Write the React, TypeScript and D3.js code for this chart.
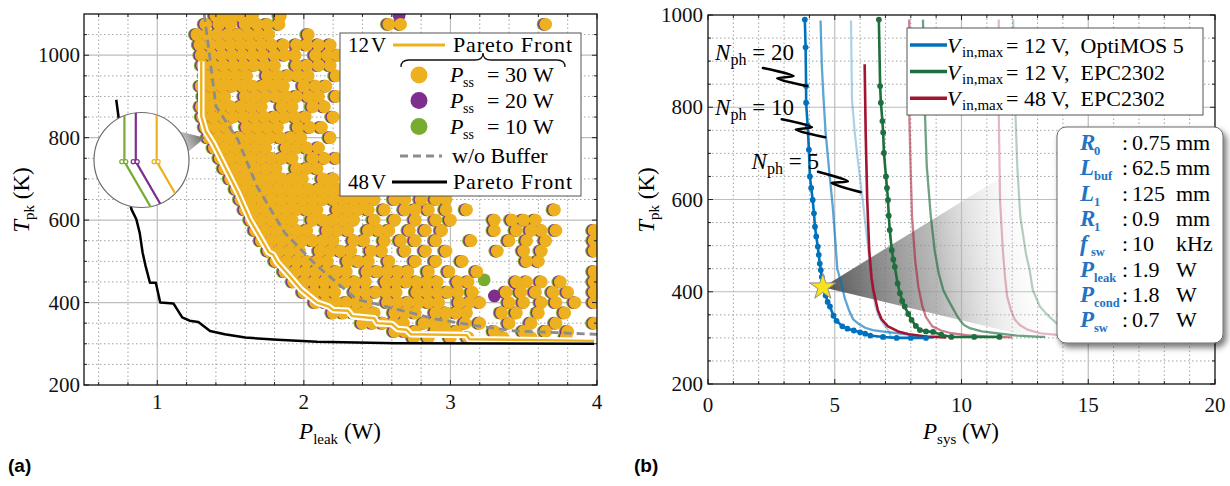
import React from 'react';
import * as d3 from 'd3';

type Pt = [number, number];

// ---------------- Panel (a) data ----------------
const aXTicks = [1, 2, 3, 4];
const aYTicks = [200, 400, 600, 800, 1000];

const pareto12V: Pt[] = [
  [1.30, 985], [1.30, 852], [1.33, 815], [1.38, 787], [1.46, 730], [1.55, 666],
  [1.63, 602], [1.71, 553], [1.76, 522], [1.79, 516], [1.82, 497], [1.90, 465],
  [1.98, 432], [2.09, 400], [2.17, 390], [2.20, 382], [2.30, 380], [2.33, 367],
  [2.48, 362], [2.50, 350], [2.60, 348], [2.64, 336], [2.70, 334], [2.73, 323],
  [3.11, 321], [3.13, 311], [3.98, 307],
];

const pareto48V: Pt[] = [
  [0.72, 892], [0.735, 852], [0.76, 780], [0.79, 700], [0.81, 650], [0.824, 626],
  [0.857, 602], [0.88, 569], [0.90, 521], [0.92, 489], [0.95, 448], [0.99, 448],
  [1.02, 400], [1.11, 398], [1.17, 364], [1.22, 356], [1.28, 353], [1.36, 331],
  [1.46, 323], [1.60, 315], [1.82, 310], [2.09, 305], [2.63, 301], [3.98, 300],
];

const noBuffer: Pt[] = [
  [1.32, 1100], [1.36, 990], [1.40, 876], [1.55, 795], [1.68, 682], [1.87, 569],
  [2.09, 489], [2.36, 408], [2.63, 384], [2.90, 360], [3.17, 344], [3.44, 331], [4.0, 323],
];

// design points (P_ss = 30 W), row by row: [T_pk, P_leak values]
const cloudRows: [number, number[]][] = [
  [1095, [1.40, 1.46, 1.52, 1.57, 1.65, 1.84]],
  [1075, [1.33, 1.42, 1.50, 1.60, 1.68, 1.75, 1.83, 2.58, 2.66, 3.65]],
  [1050, [1.27, 1.34, 1.41, 1.48, 1.55, 1.62, 1.69, 1.76, 2.03]],
  [1025, [1.29, 1.36, 1.43, 1.50, 1.57, 1.64, 1.71, 1.78, 1.86, 1.95, 2.02, 2.10, 2.18]],
  [1000, [1.30, 1.37, 1.44, 1.51, 1.58, 1.65, 1.72, 1.80, 1.87, 1.94, 2.08, 2.16, 2.23]],
  [975, [1.31, 1.38, 1.45, 1.52, 1.59, 1.66, 1.73, 1.80, 1.95, 2.02, 2.10, 2.18]],
  [950, [1.33, 1.40, 1.47, 1.54, 1.61, 1.75, 1.82, 1.89, 1.96, 2.03, 2.22]],
  [925, [1.30, 1.37, 1.44, 1.51, 1.58, 1.65, 1.72, 1.79, 1.86, 2.00, 2.08, 2.15]],
  [900, [1.32, 1.39, 1.46, 1.60, 1.67, 1.74, 1.81, 1.88, 1.95, 2.03, 2.10, 2.22]],
  [875, [1.30, 1.36, 1.43, 1.50, 1.57, 1.64, 1.71, 1.85, 1.92, 2.06, 2.14]],
  [850, [1.31, 1.38, 1.45, 1.52, 1.59, 1.66, 1.73, 1.80, 1.87, 1.94, 2.01, 2.20]],
  [825, [1.33, 1.40, 1.47, 1.61, 1.68, 1.75, 1.82, 1.96, 2.04, 2.12]],
  [800, [1.35, 1.42, 1.49, 1.56, 1.63, 1.70, 1.77, 1.84, 1.91, 1.98, 2.18]],
  [775, [1.39, 1.46, 1.53, 1.60, 1.67, 1.74, 1.88, 1.95, 2.02, 2.10]],
  [750, [1.43, 1.50, 1.57, 1.64, 1.71, 1.78, 1.85, 1.92, 2.06, 2.14, 2.22]],
  [725, [1.46, 1.53, 1.60, 1.67, 1.74, 1.81, 1.95, 2.02, 2.09]],
  [700, [1.50, 1.57, 1.64, 1.71, 1.78, 1.85, 1.92, 1.99, 2.13, 2.20]],
  [675, [1.54, 1.61, 1.68, 1.75, 1.82, 1.89, 1.96, 2.03, 2.10, 2.17, 2.24]],
  [650, [1.57, 1.64, 1.71, 1.78, 1.85, 1.92, 1.99, 2.06, 2.13, 2.20, 2.27, 2.34, 2.41, 2.48, 2.62, 2.69, 2.80, 2.90, 2.97]],
  [625, [1.60, 1.67, 1.74, 1.81, 1.88, 1.95, 2.02, 2.09, 2.23, 2.30, 2.37, 2.44, 2.55, 2.69, 2.76, 2.85, 2.97, 3.11, 3.71]],
  [600, [1.64, 1.71, 1.78, 1.85, 1.92, 2.06, 2.13, 2.20, 2.27, 2.34, 2.48, 2.62, 2.76, 2.90, 3.00, 3.30, 3.42, 3.50, 3.58]],
  [575, [1.67, 1.74, 1.81, 1.88, 1.95, 2.02, 2.16, 2.23, 2.30, 2.44, 2.51, 2.58, 2.72, 2.83, 2.94, 3.30, 3.45, 3.55, 3.62, 3.72, 3.98]],
  [550, [1.71, 1.78, 1.85, 1.92, 1.99, 2.06, 2.13, 2.20, 2.34, 2.41, 2.55, 2.66, 2.76, 2.90, 3.14, 3.40, 3.52, 3.65, 3.98]],
  [525, [1.76, 1.83, 1.90, 1.97, 2.11, 2.18, 2.25, 2.32, 2.46, 2.53, 2.69, 2.83, 2.97, 3.32, 3.50, 3.62, 3.98]],
  [500, [1.81, 1.88, 1.95, 2.02, 2.09, 2.16, 2.30, 2.37, 2.44, 2.58, 2.76, 2.90, 3.08, 3.52, 3.60]],
  [475, [1.87, 1.94, 2.01, 2.08, 2.15, 2.22, 2.29, 2.43, 2.50, 2.57, 2.64, 2.71, 2.85, 2.99, 3.18, 3.98]],
  [450, [1.93, 2.00, 2.07, 2.14, 2.21, 2.28, 2.35, 2.42, 2.56, 2.63, 2.70, 2.77, 2.84, 2.91, 3.05, 3.12, 3.45, 3.52, 3.62, 3.75, 3.98]],
  [425, [2.00, 2.07, 2.14, 2.21, 2.35, 2.42, 2.49, 2.56, 2.63, 2.77, 2.84, 2.91, 2.98, 3.05, 3.15, 3.38, 3.48, 3.58, 3.70, 3.80, 3.98]],
  [400, [2.08, 2.15, 2.22, 2.29, 2.36, 2.43, 2.57, 2.64, 2.71, 2.78, 2.85, 2.92, 3.06, 3.13, 3.20, 3.40, 3.50, 3.62, 3.72, 3.85, 3.98]],
  [375, [2.20, 2.27, 2.34, 2.41, 2.48, 2.62, 2.69, 2.76, 2.90, 2.97, 3.04, 3.11, 3.35, 3.45, 3.60, 3.78]],
  [350, [2.40, 2.47, 2.54, 2.61, 2.68, 2.82, 2.89, 2.96, 3.10, 3.20, 3.40, 3.55, 3.72, 3.98]],
  [330, [2.62, 2.69, 2.76, 2.90, 2.97, 3.04, 3.30, 3.50, 3.65, 3.80]],
  [315, [2.75, 2.85, 3.00, 3.12, 3.36, 3.55, 3.79]],
];
const purpleOnly: Pt[] = [[2.65, 1097], [3.30, 416], [3.44, 448]];
const greenOnly: Pt[] = [[3.23, 455]];

// zoomed inset: horizontal offsets of the three fronts (P_ss = 10, 20, 30 W)
const insetOffsets = [-0.36, -0.12, 0.32];

// ---------------- Panel (b) data ----------------
const bXTicks = [0, 5, 10, 15, 20];
const bYTicks = [200, 400, 600, 800, 1000];

const opti20: Pt[] = [
  [3.82, 990], [3.85, 930], [3.87, 846], [3.87, 810], [3.93, 760], [3.98, 708], [4.02, 650],
  [4.07, 625], [4.13, 599], [4.18, 570], [4.22, 541], [4.27, 520], [4.33, 498], [4.37, 480],
  [4.41, 461], [4.45, 447], [4.49, 432], [4.53, 410], [4.64, 392], [4.72, 378], [4.81, 368],
  [4.95, 348], [5.07, 337], [5.3, 325], [5.5, 320], [5.75, 316], [6.0, 312], [6.2, 309],
  [6.4, 305], [6.9, 302], [7.44, 300], [8.0, 300], [8.6, 300],
];
const opti10: Pt[] = [
  [4.44, 988], [4.49, 890], [4.56, 817], [4.64, 745], [4.79, 657], [4.92, 585], [5.02, 512],
  [5.10, 450], [5.25, 420], [5.40, 385], [5.56, 360], [5.73, 340], [5.95, 330], [6.2, 322],
  [6.5, 317], [7.0, 313], [7.5, 310], [8.1, 306], [8.36, 300], [8.9, 300],
];
const opti5: Pt[] = [
  [5.64, 988], [5.68, 817], [5.79, 745], [5.94, 672], [6.10, 600], [6.25, 527], [6.40, 454],
  [6.50, 400], [6.60, 370], [6.75, 345], [6.95, 328], [7.04, 322], [7.17, 310], [7.2, 303], [7.6, 300],
];
const epc12_20: Pt[] = [
  [6.74, 990], [6.79, 846], [6.82, 810], [6.88, 770], [6.91, 745], [6.94, 701], [7.02, 650],
  [7.06, 625], [7.10, 599], [7.13, 565], [7.17, 534], [7.25, 490], [7.31, 470], [7.37, 454],
  [7.48, 418], [7.57, 397], [7.66, 380], [7.76, 368], [7.90, 352], [8.03, 339], [8.20, 326],
  [8.36, 317], [8.6, 314], [8.88, 313], [9.2, 307], [9.6, 302], [10.5, 302], [11.5, 302],
];
const epc12_10: Pt[] = [
  [8.48, 990], [8.56, 784], [8.63, 672], [8.79, 563], [8.94, 490], [9.10, 440], [9.28, 404],
  [9.45, 385], [9.60, 370], [9.80, 350], [9.93, 339], [10.1, 328], [10.33, 321], [10.8, 314],
  [11.38, 310], [12.2, 305], [13.1, 302], [13.3, 302],
];
const epc12_5: Pt[] = [
  [12.04, 990], [12.13, 784], [12.2, 672], [12.32, 563], [12.55, 480], [12.69, 447],
  [12.81, 404], [13.09, 368], [13.35, 352], [13.6, 339], [14.0, 320], [14.5, 305],
];
const epc48_20: Pt[] = [
  [6.18, 893], [6.22, 745], [6.28, 600], [6.36, 490], [6.45, 430], [6.52, 405], [6.60, 385],
  [6.70, 360], [6.85, 340], [7.1, 325], [7.5, 314], [8.0, 307], [8.6, 303], [9.4, 301],
];
const epc48_10: Pt[] = [
  [7.94, 990], [7.94, 788], [7.99, 672], [8.05, 563], [8.17, 469], [8.30, 410], [8.45, 370],
  [8.60, 345], [8.85, 325], [9.2, 316], [9.6, 310], [10.2, 306], [11.0, 303], [12.0, 301],
];
const epc48_5: Pt[] = [
  [11.47, 990], [11.47, 788], [11.52, 600], [11.63, 490], [11.72, 430], [11.80, 390],
  [11.95, 360], [12.1, 340], [12.3, 328], [12.6, 318], [13.1, 310], [13.87, 306], [14.5, 303],
];
const starPoint: Pt = [4.53, 410];

const nphLabels = [
  { n: '20', x: 0.28, y: 902, from: [2.17, 885] as Pt, to: [3.90, 846] as Pt },
  { n: '10', x: 0.28, y: 783, from: [2.91, 774] as Pt, to: [4.62, 735] as Pt },
  { n: '5', x: 1.72, y: 667, from: [4.34, 660] as Pt, to: [6.02, 616] as Pt },
];

const legendBText = ['= 12 V,  OptiMOS 5', '= 12 V,  EPC2302', '= 48 V,  EPC2302'];

const infoLabels = ['R', 'L', 'L', 'R', 'f', 'P', 'P', 'P'];
const infoSubs = ['0', 'buf', '1', '1', 'sw', 'leak', 'cond', 'sw'];
const infoValues = ['0.75', '62.5', '125', '0.9', '10', '1.9', '1.8', '0.7'];
const infoUnits = ['mm', 'mm', 'mm', 'mm', 'kHz', 'W', 'W', 'W'];

// ---------------- styling ----------------
const SERIF = "'Liberation Serif', 'DejaVu Serif', 'Times New Roman', Times, serif";
const SANS = "'Liberation Sans', Arial, sans-serif";
const YEL = '#EDB120';
const PUR = '#7E2F8E';
const GRN = '#77AC30';
const BLUE = '#0072BD';
const DGRN = '#1E6E3E';
const DRED = '#A2142F';

function Grid({ x, y, xMinor, yMinor }: any) {
  const [x0, x1] = x.range();
  const [y0, y1] = y.range();
  return (
    <g>
      {xMinor.map((v: number, i: number) => (
        <line key={'xm' + i} x1={x(v)} x2={x(v)} y1={y0} y2={y1} stroke="#9a9a9a" strokeWidth={0.9} strokeDasharray="1.5 2.5" />
      ))}
      {yMinor.map((v: number, i: number) => (
        <line key={'ym' + i} x1={x0} x2={x1} y1={y(v)} y2={y(v)} stroke="#9a9a9a" strokeWidth={0.9} strokeDasharray="1.5 2.5" />
      ))}
    </g>
  );
}

function MajorGrid({ x, y, xs, ys }: any) {
  const [x0, x1] = x.range();
  const [y0, y1] = y.range();
  const xd = x.domain(), yd = y.domain();
  return (
    <g>
      {xs.filter((v: number) => v > xd[0] + 1e-6 && v < xd[1] - 1e-6).map((v: number) => (
        <line key={'X' + v} x1={x(v)} x2={x(v)} y1={y0} y2={y1} stroke="#bdbdbd" strokeWidth={1.2} />
      ))}
      {ys.filter((v: number) => v > yd[0] + 1e-6 && v < yd[1] - 1e-6).map((v: number) => (
        <line key={'Y' + v} x1={x0} x2={x1} y1={y(v)} y2={y(v)} stroke="#bdbdbd" strokeWidth={1.2} />
      ))}
    </g>
  );
}

function Frame({ x, y, xs, ys, xMinor, yMinor, xLabelY, yLabelX }: any) {
  const [x0, x1] = x.range();
  const [y0, y1] = y.range();
  const tick = (v: number, len: number, axis: 'x' | 'y', k: string) =>
    axis === 'x' ? (
      <g key={k}>
        <line x1={x(v)} x2={x(v)} y1={y0} y2={y0 - len} stroke="#222" strokeWidth={1} />
        <line x1={x(v)} x2={x(v)} y1={y1} y2={y1 + len} stroke="#222" strokeWidth={1} />
      </g>
    ) : (
      <g key={k}>
        <line x1={x0} x2={x0 + len} y1={y(v)} y2={y(v)} stroke="#222" strokeWidth={1} />
        <line x1={x1} x2={x1 - len} y1={y(v)} y2={y(v)} stroke="#222" strokeWidth={1} />
      </g>
    );
  return (
    <g>
      {xMinor.map((v: number, i: number) => tick(v, 3, 'x', 'xm' + i))}
      {yMinor.map((v: number, i: number) => tick(v, 3, 'y', 'ym' + i))}
      {xs.map((v: number, i: number) => tick(v, 5, 'x', 'xM' + i))}
      {ys.map((v: number, i: number) => tick(v, 5, 'y', 'yM' + i))}
      <rect x={x0} y={y1} width={x1 - x0} height={y0 - y1} fill="none" stroke="#111" strokeWidth={1.3} />
      {xs.map((v: number) => (
        <text key={'lx' + v} x={x(v)} y={xLabelY} textAnchor="middle" style={{ fontFamily: SERIF }} fontSize={21} fill="#111">{v}</text>
      ))}
      {ys.map((v: number) => (
        <text key={'ly' + v} x={yLabelX} y={y(v)} dy="0.34em" textAnchor="end" style={{ fontFamily: SERIF }} fontSize={21} fill="#111">{v}</text>
      ))}
    </g>
  );
}

const minorRange = (a: number, b: number, s: number) =>
  d3.range(Math.round((b - a) / s) + 1).map((i) => +(a + i * s).toFixed(4));

export default function App() {
  // ---- panel (a) scales
  const xA = d3.scaleLinear().domain([0.5, 4]).range([84, 597]);
  const yA = d3.scaleLinear().domain([200, 1100]).range([385, 14]);
  const lineA = d3.line<Pt>().x((d) => xA(d[0])).y((d) => yA(d[1]));
  const aXMinor = minorRange(0.6, 3.8, 0.2).filter((v) => Math.abs(v - Math.round(v)) > 0.01);
  const aYMinor = minorRange(250, 1050, 50).filter((v) => v % 200 !== 0);

  const cloud: Pt[] = cloudRows.flatMap(([t, xs]) => xs.map((p) => [p, t] as Pt));
  const dotR = 6.4;

  // inset
  const icx = 141.5, icy = 160, iR = 47.5;
  const insetColors = [GRN, PUR, YEL];
  const tip: Pt = [xA(1.325), yA(800)];
  const angA = (-37 * Math.PI) / 180, angB = (-10 * Math.PI) / 180;
  const base1: Pt = [icx + iR * Math.cos(angA), icy + iR * Math.sin(angA)];
  const base2: Pt = [icx + iR * Math.cos(angB), icy + iR * Math.sin(angB)];

  // ---- panel (b) scales
  const xB = d3.scaleLinear().domain([0, 20]).range([708, 1215]);
  const yB = d3.scaleLinear().domain([200, 1000]).range([384, 15]);
  const lineB = d3.line<Pt>().x((d) => xB(d[0])).y((d) => yB(d[1]));
  const bXMinor = d3.range(1, 20).filter((v) => v % 5 !== 0);
  const bYMinor = minorRange(250, 950, 50).filter((v) => v % 200 !== 0);

  const seriesB = [
    { d: opti5, c: BLUE, o: 0.33, w: 2.2, m: false },
    { d: epc12_5, c: DGRN, o: 0.33, w: 2.2, m: false },
    { d: epc48_5, c: DRED, o: 0.3, w: 2.2, m: false },
    { d: opti10, c: BLUE, o: 0.64, w: 2.3, m: false },
    { d: epc12_10, c: DGRN, o: 0.64, w: 2.3, m: false },
    { d: epc48_10, c: DRED, o: 0.55, w: 2.3, m: false },
    { d: epc48_20, c: DRED, o: 1, w: 2.6, m: false },
    { d: epc12_20, c: DGRN, o: 1, w: 2.6, m: true },
    { d: opti20, c: BLUE, o: 1, w: 2.6, m: true },
  ];
  const legendColors = [BLUE, DGRN, DRED];

  const star = d3.symbol(d3.symbolStar, 210)() as string;
  const starXY: Pt = [xB(starPoint[0]), yB(starPoint[1])];
  const box = { x: 1057, y: 127, w: 166, h: 216 };

  const squiggle = (a: Pt, b: Pt) => {
    const A: Pt = [xB(a[0]), yB(a[1])];
    const B: Pt = [xB(b[0]), yB(b[1])];
    const dx = B[0] - A[0], dy = B[1] - A[1];
    const L = Math.hypot(dx, dy);
    const nx = -dy / L, ny = dx / L;
    const off = 4.2;
    const M1: Pt = [A[0] + dx * 0.66 - nx * off, A[1] + dy * 0.66 - ny * off];
    const M2: Pt = [A[0] + dx * 0.36 + nx * off, A[1] + dy * 0.36 + ny * off];
    return d3.line().curve(d3.curveCatmullRom.alpha(0.5))([A, M1, M2, B]) as string;
  };

  return (
    <svg width={1230} height={486} style={{ position: 'absolute', left: 0, top: 0, background: '#fff', fontFamily: SERIF }}>
      <defs>
        <clipPath id="clipA"><rect x={84} y={14} width={513} height={371} /></clipPath>
        <clipPath id="clipB"><rect x={708} y={15} width={507} height={369} /></clipPath>
        <clipPath id="clipInset"><circle cx={icx} cy={icy} r={iR} /></clipPath>
        <linearGradient id="coneA" gradientUnits="userSpaceOnUse" x1={base1[0]} y1={icy - 10} x2={tip[0]} y2={tip[1]}>
          <stop offset="0" stopColor="#e2e2e2" />
          <stop offset="1" stopColor="#6a6a6a" />
        </linearGradient>
        <linearGradient id="coneB" gradientUnits="userSpaceOnUse" x1={starXY[0]} y1={starXY[1]} x2={box.x - 10} y2={starXY[1] - 40}>
          <stop offset="0" stopColor="#4a4a4a" stopOpacity={0.95} />
          <stop offset="0.5" stopColor="#9a9a9a" stopOpacity={0.7} />
          <stop offset="1" stopColor="#ffffff" stopOpacity={0} />
        </linearGradient>
        <filter id="shadow" x="-20%" y="-20%" width="150%" height="150%">
          <feDropShadow dx={3} dy={4} stdDeviation={3} floodColor="#000" floodOpacity={0.55} />
        </filter>
      </defs>

      {/* ================= Panel (a) ================= */}
      <Grid x={xA} y={yA} xMinor={aXMinor} yMinor={aYMinor} />
      <MajorGrid x={xA} y={yA} xs={aXTicks} ys={aYTicks} />
      <g clipPath="url(#clipA)">
        {cloud.map((p, i) => (
          <circle key={'g' + i} cx={xA(p[0] - 0.017)} cy={yA(p[1])} r={dotR} fill={GRN} />
        ))}
        {greenOnly.map((p, i) => (
          <circle key={'go' + i} cx={xA(p[0])} cy={yA(p[1])} r={dotR} fill={GRN} />
        ))}
        {cloud.map((p, i) => (
          <circle key={'p' + i} cx={xA(p[0] - 0.009)} cy={yA(p[1])} r={dotR} fill={PUR} />
        ))}
        {purpleOnly.map((p, i) => (
          <circle key={'po' + i} cx={xA(p[0])} cy={yA(p[1])} r={dotR} fill={PUR} />
        ))}
        {cloud.map((p, i) => (
          <circle key={'y' + i} cx={xA(p[0])} cy={yA(p[1])} r={dotR} fill={YEL} />
        ))}
        <path d={lineA(noBuffer) as string} fill="none" stroke="#8c8c8c" strokeWidth={2.8} strokeDasharray="8 5" />
        <path d={lineA(pareto12V) as string} fill="none" stroke="#fff" strokeWidth={6.5} strokeLinejoin="round" />
        <path d={lineA(pareto12V) as string} fill="none" stroke={YEL} strokeWidth={2.4} strokeLinejoin="round" />
        <path d={lineA(pareto48V) as string} fill="none" stroke="#000" strokeWidth={2.5} strokeLinejoin="round" />
      </g>

      {/* zoom cone + inset */}
      <polygon points={`${base1[0]},${base1[1]} ${tip[0]},${tip[1]} ${base2[0]},${base2[1]}`} fill="url(#coneA)" />
      <circle cx={icx} cy={icy} r={iR} fill="#fff" stroke="#6d6d6d" strokeWidth={1.2} />
      <g clipPath="url(#clipInset)">
        {insetOffsets.map((o, i) => {
          const pts: Pt[] = [[o, -1.3], [o, 0.035], [o + 0.58 * 1.4, 0.035 + 1.4]];
          return (
            <g key={'in' + i}>
              <path d={d3.line<Pt>().x((d) => icx + d[0] * iR).y((d) => icy + d[1] * iR)(pts) as string} fill="none" stroke={insetColors[i]} strokeWidth={2.2} />
              <circle cx={icx + (o - 0.055) * iR} cy={icy + 0.035 * iR} r={2} fill="#fff" stroke={insetColors[i]} strokeWidth={1.2} />
              <circle cx={icx + (o + 0.03) * iR} cy={icy + 0.035 * iR} r={2} fill="#fff" stroke={insetColors[i]} strokeWidth={1.2} />
            </g>
          );
        })}
      </g>

      <Frame x={xA} y={yA} xs={aXTicks} ys={aYTicks} xMinor={aXMinor} yMinor={aYMinor} xLabelY={409} yLabelX={80} />

      {/* legend (a) */}
      <g style={{ fontFamily: SERIF }}>
        <rect x={340} y={33} width={241} height={163} fill="#fff" stroke="#555" strokeWidth={1} />
        <text x={348} y={52} fontSize={21}>12<tspan dx={2}>V</tspan></text>
        <line x1={393} x2={445} y1={45} y2={45} stroke={YEL} strokeWidth={3} />
        <text x={453} y={52} fontSize={22} textLength={119} lengthAdjust="spacing">Pareto Front</text>
        <path d="M401,67 Q401,60 409,60 L475,60 Q483,60 483,53 Q483,60 491,60 L557,60 Q565,60 565,67" fill="none" stroke="#111" strokeWidth={1.3} />
        {[{ c: YEL, y: 75, v: '30' }, { c: PUR, y: 100.5, v: '20' }, { c: GRN, y: 126.5, v: '10' }].map((r) => (
          <g key={r.v}>
            <circle cx={419} cy={r.y} r={8.5} fill={r.c} />
            <text x={450} y={r.y + 7} fontSize={22} fontStyle="italic">P</text>
            <text x={463} y={r.y + 12} fontSize={14}>ss</text>
            <text x={487} y={r.y + 7} fontSize={22}>=</text>
            <text x={505} y={r.y + 7} fontSize={22}>{r.v}</text>
            <text x={533} y={r.y + 7} fontSize={22}>W</text>
          </g>
        ))}
        <line x1={400} x2={442} y1={156} y2={156} stroke="#8c8c8c" strokeWidth={3} strokeDasharray="8 5" />
        <text x={452} y={163} fontSize={22}>w/o Buffer</text>
        <text x={348} y={189} fontSize={21}>48<tspan dx={2}>V</tspan></text>
        <line x1={392} x2={447} y1={182} y2={182} stroke="#000" strokeWidth={3} />
        <text x={453} y={189} fontSize={22} textLength={119} lengthAdjust="spacing">Pareto Front</text>
      </g>

      {/* axis titles (a) */}
      <text x={340} y={439} textAnchor="middle" fontSize={23} style={{ fontFamily: SERIF }}>
        <tspan fontStyle="italic">P</tspan><tspan fontSize={15} dy={5}>leak</tspan><tspan dy={-5}> (W)</tspan>
      </text>
      <text transform="translate(29,200) rotate(-90)" textAnchor="middle" fontSize={23} style={{ fontFamily: SERIF }}>
        <tspan fontStyle="italic">T</tspan><tspan fontSize={15} dy={5}>pk</tspan><tspan dy={-5}> (K)</tspan>
      </text>
      <text x={8} y={472} style={{ fontFamily: SANS }} fontWeight="bold" fontSize={19}>(a)</text>

      {/* ================= Panel (b) ================= */}
      <Grid x={xB} y={yB} xMinor={bXMinor} yMinor={bYMinor} />
      <MajorGrid x={xB} y={yB} xs={bXTicks} ys={bYTicks} />
      <polygon points={`${starXY[0]},${starXY[1]} ${box.x},${143} ${box.x},${box.y + box.h}`} fill="url(#coneB)" />
      <g clipPath="url(#clipB)">
        {seriesB.map((s, i) => (
          <g key={'s' + i}>
            <path d={lineB(s.d) as string} fill="none" stroke={s.c} strokeOpacity={s.o} strokeWidth={s.w} strokeLinejoin="round" />
            {s.m && s.d.map((p, j) => <circle key={j} cx={xB(p[0])} cy={yB(p[1])} r={2.9} fill={s.c} />)}
          </g>
        ))}
      </g>
      <path d={star} transform={`translate(${starXY[0]},${starXY[1]})`} fill="#F8E21C" stroke="#8f8f8f" strokeWidth={1} />

      <Frame x={xB} y={yB} xs={bXTicks} ys={bYTicks} xMinor={bXMinor} yMinor={bYMinor} xLabelY={412} yLabelX={703} />

      {/* N_ph annotations */}
      {nphLabels.map((l) => (
        <g key={l.n}>
          <text x={xB(l.x)} y={yB(l.y)} fontSize={23} style={{ fontFamily: SERIF }}>
            <tspan fontStyle="italic">N</tspan><tspan fontSize={16} dy={5}>ph</tspan><tspan dy={-5}> = {l.n}</tspan>
          </text>
          <path d={squiggle(l.from, l.to)} fill="none" stroke="#000" strokeWidth={2.6} strokeLinejoin="round" strokeLinecap="round" />
        </g>
      ))}

      {/* legend (b) */}
      <g style={{ fontFamily: SERIF }}>
        <rect x={907} y={28} width={296} height={87} fill="#fff" stroke="#555" strokeWidth={1} />
        {legendBText.map((k, i) => {
          const cy = 45 + i * 26.6;
          return (
            <g key={k}>
              <line x1={910} x2={947} y1={cy} y2={cy} stroke={legendColors[i]} strokeWidth={3.5} />
              <text x={947} y={cy + 8} fontSize={22} fontStyle="italic">V</text>
              <text x={962} y={cy + 12} fontSize={15}>in,max</text>
              <text x={1006} y={cy + 8} fontSize={22} style={{ whiteSpace: 'pre' }}>{k}</text>
            </g>
          );
        })}
      </g>

      {/* info box */}
      <g style={{ fontFamily: SERIF }}>
        <rect x={box.x} y={box.y} width={box.w} height={box.h} rx={9} fill="#fff" stroke="#6a6a6a" strokeWidth={1} filter="url(#shadow)" />
        {infoLabels.map((lab, i) => {
          const by = 150 + i * 25.3;
          const subX = lab === 'f' ? 1091 : 1094;
          return (
            <g key={'info' + i}>
              <text x={1080} y={by} fontSize={23} fontWeight="bold" fontStyle="italic" fill="#2273C3">{lab}</text>
              <text x={subX} y={by + 5} fontSize={12.5} fontWeight="bold" fill="#2273C3">{infoSubs[i]}</text>
              <text x={1122} y={by} fontSize={22}>:</text>
              <text x={1132} y={by} fontSize={22}>{infoValues[i]}</text>
              <text x={1176} y={by} fontSize={22}>{infoUnits[i]}</text>
            </g>
          );
        })}
      </g>

      {/* axis titles (b) */}
      <text x={961} y={439} textAnchor="middle" fontSize={23} style={{ fontFamily: SERIF }}>
        <tspan fontStyle="italic">P</tspan><tspan fontSize={15} dy={5}>sys</tspan><tspan dy={-5}> (W)</tspan>
      </text>
      <text transform="translate(654,200) rotate(-90)" textAnchor="middle" fontSize={23} style={{ fontFamily: SERIF }}>
        <tspan fontStyle="italic">T</tspan><tspan fontSize={15} dy={5}>pk</tspan><tspan dy={-5}> (K)</tspan>
      </text>
      <text x={634} y={472} style={{ fontFamily: SANS }} fontWeight="bold" fontSize={19}>(b)</text>
    </svg>
  );
}
